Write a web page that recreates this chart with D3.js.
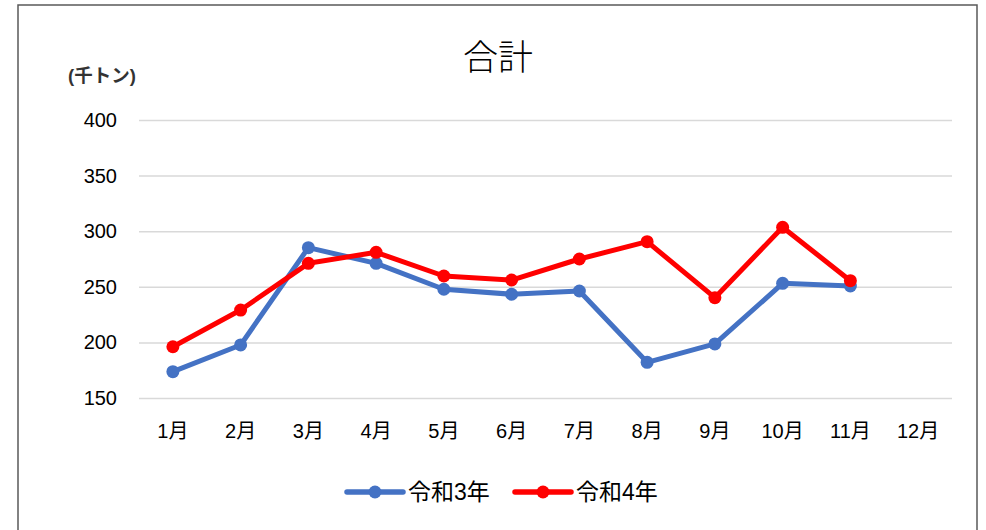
<!DOCTYPE html>
<html><head><meta charset="utf-8">
<script src="https://cdn.jsdelivr.net/npm/d3@7"></script>
<style>
body{margin:0;background:#fff;}
svg{display:block;}
text{font-family:"Liberation Sans","Noto Sans CJK JP",sans-serif;}
</style></head>
<body><svg id="c" width="986" height="530"></svg>
<script>
const months = ["1月","2月","3月","4月","5月","6月","7月","8月","9月","10月","11月","12月"];
const r3 = [173.7,197.7,285.2,271.1,247.8,243.3,246.2,182.1,198.6,253.1,250.7,null];
const r4 = [196.1,229.1,271.1,281.0,259.7,256.1,275.0,290.6,240.2,303.5,255.5,null];
const yTicks = [150,200,250,300,350,400];
const seriesNames = ["令和3年","令和4年"];
const colors = ["#4472C4","#FF0000"];

const svg = d3.select("#c");
svg.append("rect").attr("x",18).attr("y",5).attr("width",959).attr("height",540)
  .attr("fill","#fff").attr("stroke","#595959").attr("stroke-width",1.5);

const x = d3.scaleBand().domain(months).range([139,952]);
const y = d3.scaleLinear().domain([150,400]).range([398,120]);

const ya = svg.append("g").attr("transform","translate(139,0)")
  .call(d3.axisLeft(y).tickValues(yTicks).tickSize(-813).tickPadding(22).tickFormat(d3.format("d")));
ya.select(".domain").remove();
ya.selectAll(".tick line").attr("stroke","#d9d9d9").attr("stroke-width",1.5);
ya.selectAll(".tick text").attr("font-size",20).attr("fill","#000");

const xa = svg.append("g").attr("transform","translate(0,398)")
  .call(d3.axisBottom(x).tickSize(0).tickPadding(26));
xa.select(".domain").remove();
xa.selectAll(".tick text").attr("font-size",20).attr("fill","#000");

svg.append("text").attr("x",498).attr("y",70).attr("text-anchor","middle")
  .attr("font-size",35).attr("font-weight",300).attr("fill","#000").text("合計");
svg.append("text").attr("x",68).attr("y",82).attr("font-size",18.5).attr("font-weight","bold")
  .attr("fill","#333").text("(千トン)");

const line = d3.line().defined(d=>d!=null).x((d,i)=>x(months[i])+x.bandwidth()/2).y(d=>y(d));
[r3,r4].forEach((s,k)=>{
  svg.append("path").datum(s).attr("d",line).attr("fill","none")
    .attr("stroke",colors[k]).attr("stroke-width",5).attr("stroke-linejoin","round");
  svg.append("g").selectAll("circle").data(s.map((v,i)=>({v,i})).filter(d=>d.v!=null))
    .join("circle").attr("cx",d=>x(months[d.i])+x.bandwidth()/2).attr("cy",d=>y(d.v))
    .attr("r",6.5).attr("fill",colors[k]);
});

const lg = svg.append("g");
const lx = [347,515];
seriesNames.forEach((n,k)=>{
  const g = lg.append("g").attr("transform",`translate(${lx[k]},492)`);
  g.append("line").attr("x1",0).attr("x2",56).attr("stroke",colors[k]).attr("stroke-width",5.5).attr("stroke-linecap","round");
  g.append("circle").attr("cx",28).attr("r",6.5).attr("fill",colors[k]);
  g.append("text").attr("x",61).attr("y",8).attr("font-size",23).attr("fill","#000").text(n);
});
</script></body></html>
